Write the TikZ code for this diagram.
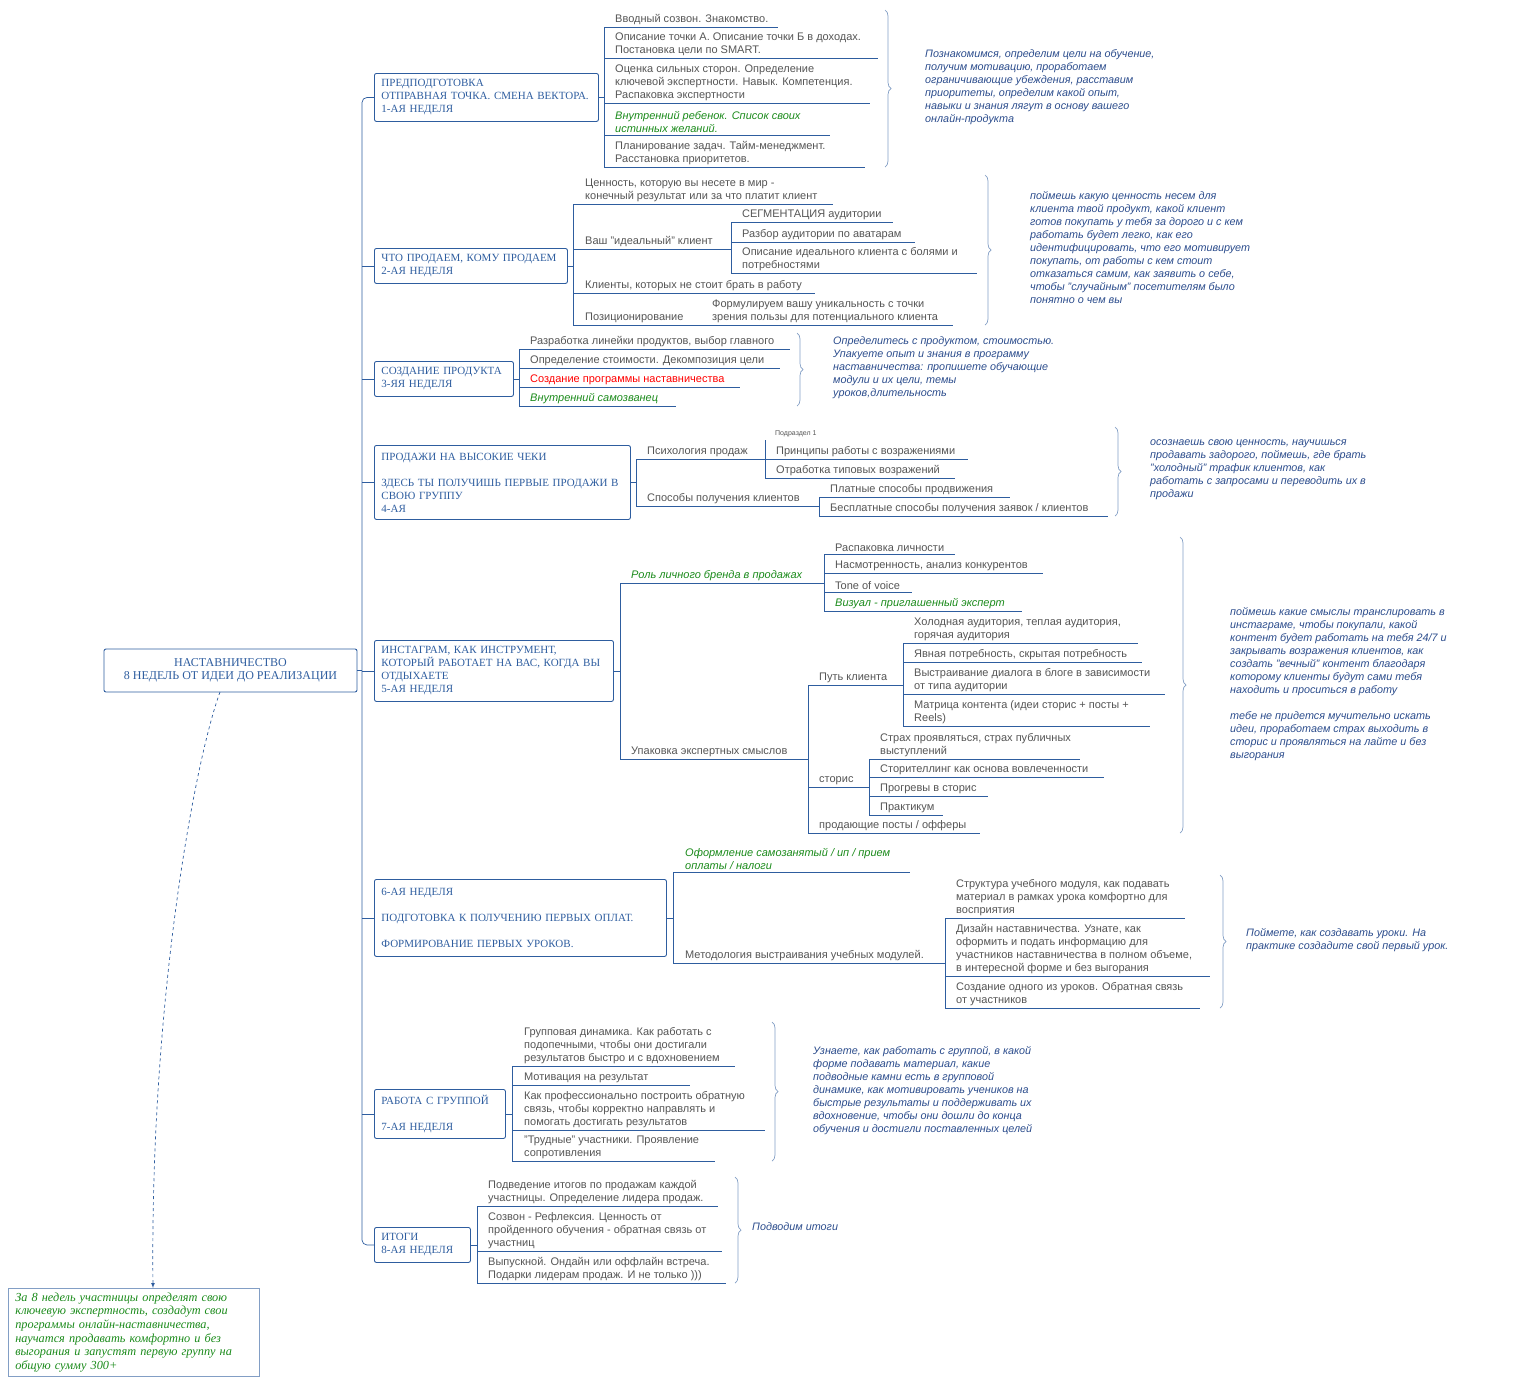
\documentclass[tikz,border=0pt]{standalone}
\usepackage{fontspec}
\setmainfont{Liberation Sans}
\newfontfamily\srf{Liberation Serif}
\usetikzlibrary{decorations.pathreplacing,calc}
\definecolor{ln}{HTML}{2E5D9F}
\definecolor{tg}{HTML}{555555}
\definecolor{nt}{HTML}{2B4C8C}
\definecolor{gr}{HTML}{1A8A1A}
\newcounter{lfc}
\tikzset{
 lnk/.style={draw=ln,line width=0.7pt},
 lf/.style={inner sep=0pt,align=left,text=tg,font=\fontsize{11}{13}\selectfont},
 box/.style={draw=ln,line width=0.9pt,rounded corners=2pt,text=ln,align=left,anchor=north west,inner xsep=7pt,inner ysep=5pt,font=\srf\fontsize{11}{13}\selectfont},
 note/.style={inner sep=0pt,align=left,text=nt,anchor=north west,font=\itshape\fontsize{10.8}{13}\selectfont},
 br/.style={draw=ln!60,line width=0.7pt,decorate,decoration={brace,amplitude=6pt}},
 gi/.style={text=gr,font=\itshape\fontsize{11}{13}\selectfont},
}
\newcommand\lf[6][]{\stepcounter{lfc}\node[lf,#1,anchor=south west] (l\arabic{lfc}) at (#2,#3-2) {#6};
 \draw[lnk] (#5,#3) -- (#4,#3);}
\newcommand\vl[3]{\draw[lnk] (#1,#2) -- (#1,#3);}
\begin{document}
\begin{tikzpicture}[x=1pt,y=-1pt]
\useasboundingbox (0,0) rectangle (1517,1385);
\node[box,anchor=center,align=center,minimum width=253,minimum height=43,font=\srf\fontsize{12}{13.5}\selectfont] (root) at (230.5,670.5) {НАСТАВНИЧЕСТВО\\8 НЕДЕЛЬ ОТ ИДЕИ ДО РЕАЛИЗАЦИИ};
\node[box,text width=210,minimum height=48] (b1) at (374,73) {ПРЕДПОДГОТОВКА\\ОТПРАВНАЯ ТОЧКА. СМЕНА ВЕКТОРА.\\1-АЯ НЕДЕЛЯ};
\node[box,text width=179,minimum height=35] (b2) at (374,248) {ЧТО ПРОДАЕМ, КОМУ ПРОДАЕМ\\2-АЯ НЕДЕЛЯ};
\node[box,text width=125,minimum height=35] (b3) at (374,361) {СОЗДАНИЕ ПРОДУКТА\\3-ЯЯ НЕДЕЛЯ};
\node[box,text width=242,minimum height=74] (b4) at (374,445) {ПРОДАЖИ НА ВЫСОКИЕ ЧЕКИ\\[13pt]ЗДЕСЬ ТЫ ПОЛУЧИШЬ ПЕРВЫЕ ПРОДАЖИ В\\СВОЮ ГРУППУ\\4-АЯ};
\node[box,text width=225,minimum height=61] (b5) at (374,640) {ИНСТАГРАМ, КАК ИНСТРУМЕНТ,\\КОТОРЫЙ РАБОТАЕТ НА ВАС, КОГДА ВЫ\\ОТДЫХАЕТЕ\\5-АЯ НЕДЕЛЯ};
\node[box,text width=278,minimum height=77] (b6) at (374,879) {6-АЯ НЕДЕЛЯ\\[13pt]ПОДГОТОВКА К ПОЛУЧЕНИЮ ПЕРВЫХ ОПЛАТ.\\[13pt]ФОРМИРОВАНИЕ ПЕРВЫХ УРОКОВ.};
\node[box,text width=117,minimum height=49] (b7) at (374,1089) {РАБОТА С ГРУППОЙ\\[13pt]7-АЯ НЕДЕЛЯ};
\node[box,text width=82,minimum height=35] (b8) at (374,1227) {ИТОГИ\\8-АЯ НЕДЕЛЯ};
\draw[lnk,rounded corners=5pt] (b1.west) -| (362,1245) -- (b8.west);
\foreach \b in {b2,b3,b4,b5,b6,b7} \draw[lnk] (362,0|-\b.west) -- (\b.west);
\draw[lnk] (root.east) -- (362,0|-root.east);
% group 1
\vl{604}{27}{167} \draw[lnk] (b1.east) -- (604,0|-b1.east);
\lf{615}{27}{778}{604}{Вводный созвон. Знакомство.}
\lf{615}{58}{878}{604}{Описание точки А. Описание точки Б в доходах.\\Постановка цели по SMART.}
\lf{615}{103}{870}{604}{Оценка сильных сторон. Определение\\ключевой экспертности. Навык. Компетенция.\\Распаковка экспертности}
\lf[gi]{615}{135}{830}{604}{Внутренний ребенок. Список своих\\истинных желаний.}
\lf{615}{167}{865}{604}{Планирование задач. Тайм-менеджмент.\\Расстановка приоритетов.}
\draw[br] (885,10) -- (885,167);
\node[note] (n1) at (925,49) {Познакомимся, определим цели на обучение,\\получим мотивацию, проработаем\\ограничивающие убеждения, расставим\\приоритеты, определим какой опыт,\\навыки и знания лягут в основу вашего\\онлайн-продукта};
% group 2
\vl{573}{204}{325} \draw[lnk] (b2.east) -- (573,0|-b2.east);
\lf{585}{204}{833}{573}{Ценность, которую вы несете в мир -\\конечный результат или за что платит клиент}
\lf{585}{249}{731}{573}{Ваш "идеальный" клиент}
\vl{731}{222}{273}
\lf{742}{222}{893}{731}{СЕГМЕНТАЦИЯ аудитории}
\lf{742}{242}{915}{731}{Разбор аудитории по аватарам}
\lf{742}{273}{977}{731}{Описание идеального клиента с болями и\\потребностями}
\lf{585}{293}{815}{573}{Клиенты, которых не стоит брать в работу}
\lf{585}{325}{700}{573}{Позиционирование}
\lf{712}{325}{953}{700}{Формулируем вашу уникальность с точки\\зрения пользы для потенциального клиента}
\draw[br] (985,175) -- (985,325);
\node[note] (n2) at (1030,191) {поймешь какую ценность несем для\\клиента твой продукт, какой клиент\\готов покупать у тебя за дорого и с кем\\работать будет легко, как его\\идентифицировать, что его мотивирует\\покупать, от работы с кем стоит\\отказаться самим, как заявить о себе,\\чтобы "случайным" посетителям было\\понятно о чем вы};
% group 3
\vl{519}{349}{406} \draw[lnk] (b3.east) -- (519,0|-b3.east);
\lf{530}{349}{790}{519}{Разработка линейки продуктов, выбор главного}
\lf{530}{368}{780}{519}{Определение стоимости. Декомпозиция цели}
\lf[text=red]{530}{387}{740}{519}{Создание программы наставничества}
\lf[gi]{530}{406}{676}{519}{Внутренний самозванец}
\draw[br] (797,333) -- (797,406);
\node[note] (n3) at (833,336) {Определитесь с продуктом, стоимостью.\\Упакуете опыт и знания в программу\\наставничества: пропишете обучающие\\модули и их цели, темы\\уроков,длительность};
% group 4
\vl{636}{459}{506} \draw[lnk] (b4.east) -- (636,0|-b4.east);
\lf{647}{459}{765}{636}{Психология продаж}
\vl{765}{440}{478}
\node[lf,font=\fontsize{7}{8}\selectfont,anchor=south west] (sub) at (775,437) {Подраздел 1};
\lf{776}{459}{968}{765}{Принципы работы с возражениями}
\lf{776}{478}{955}{765}{Отработка типовых возражений}
\lf{647}{506}{819}{636}{Способы получения клиентов}
\vl{819}{497}{516}
\lf{830}{497}{1010}{819}{Платные способы продвижения}
\lf{830}{516}{1108}{819}{Бесплатные способы получения заявок / клиентов}
\draw[br] (1115,427) -- (1115,516);
\node[note] (n4) at (1150,439) {осознаешь свою ценность, научишься\\продавать задорого, поймешь, где брать\\"холодный" трафик клиентов, как\\работать с запросами и переводить их в\\продажи};
% group 5
\vl{620}{583}{759} \draw[lnk] (b5.east) -- (620,0|-b5.east);
\lf[gi]{631}{583}{824}{620}{Роль личного бренда в продажах}
\vl{824}{554}{611}
\lf{835}{554}{955}{824}{Распаковка личности}
\lf{835}{573}{1043}{824}{Насмотренность, анализ конкурентов}
\lf{835}{592}{912}{824}{Tone of voice}
\lf[gi]{835}{611}{1022}{824}{Визуал - приглашенный эксперт}
\lf{631}{759}{808}{620}{Упаковка экспертных смыслов}
\vl{808}{685}{833}
\lf{819}{685}{903}{808}{Путь клиента}
\vl{903}{643}{726}
\lf{914}{643}{1138}{903}{Холодная аудитория, теплая аудитория,\\горячая аудитория}
\lf{914}{662}{1142}{903}{Явная потребность, скрытая потребность}
\lf{914}{694}{1165}{903}{Выстраивание диалога в блоге в зависимости\\от типа аудитории}
\lf{914}{726}{1150}{903}{Матрица контента (идеи сторис + посты +\\Reels)}
\lf{819}{787}{869}{808}{сторис}
\vl{869}{759}{815}
\lf{880}{759}{1080}{869}{Страх проявляться, страх публичных\\выступлений}
\lf{880}{777}{1104}{869}{Сторителлинг как основа вовлеченности}
\lf{880}{796}{988}{869}{Прогревы в сторис}
\lf{880}{815}{943}{869}{Практикум}
\lf{819}{833}{980}{808}{продающие посты / офферы}
\draw[br] (1180,537) -- (1180,833);
\node[note] (n5) at (1230,607) {поймешь какие смыслы транслировать в\\инстаграме, чтобы покупали, какой\\контент будет работать на тебя 24/7 и\\закрывать возражения клиентов, как\\создать "вечный" контент благодаря\\которому клиенты будут сами тебя\\находить и проситься в работу\\[13pt]тебе не придется мучительно искать\\идеи, проработаем страх выходить в\\сторис и проявляться на лайте и без\\выгорания};
% group 6
\vl{673}{872}{963} \draw[lnk] (b6.east) -- (673,0|-b6.east);
\lf[gi]{685}{872}{910}{673}{Оформление самозанятый / ип / прием\\оплаты / налоги}
\lf{685}{963}{945}{673}{Методология выстраивания учебных модулей.}
\vl{945}{918}{1008}
\lf{956}{918}{1185}{945}{Структура учебного модуля, как подавать\\материал в рамках урока комфортно для\\восприятия}
\lf{956}{976}{1210}{945}{Дизайн наставничества. Узнате, как\\оформить и подать информацию для\\участников наставничества в полном объеме,\\в интересной форме и без выгорания}
\lf{956}{1008}{1200}{945}{Создание одного из уроков. Обратная связь\\от участников}
\draw[br] (1220,875) -- (1220,1008);
\node[note] (n6) at (1246,928) {Поймете, как создавать уроки. На\\практике создадите свой первый урок.};
% group 7
\vl{512}{1066}{1161} \draw[lnk] (b7.east) -- (512,0|-b7.east);
\lf{524}{1066}{735}{512}{Групповая динамика. Как работать с\\подопечными, чтобы они достигали\\результатов быстро и с вдохновением}
\lf{524}{1085}{690}{512}{Мотивация на результат}
\lf{524}{1130}{765}{512}{Как профессионально построить обратную\\связь, чтобы корректно направлять и\\помогать достигать результатов}
\lf{524}{1161}{715}{512}{"Трудные" участники. Проявление\\сопротивления}
\draw[br] (772,1022) -- (772,1161);
\node[note] (n7) at (813,1046) {Узнаете, как работать с группой, в какой\\форме подавать материал, какие\\подводные камни есть в групповой\\динамике, как мотивировать учеников на\\быстрые результаты и поддерживать их\\вдохновение, чтобы они дошли до конца\\обучения и достигли поставленных целей};
% group 8
\vl{477}{1206}{1283} \draw[lnk] (b8.east) -- (477,0|-b8.east);
\lf{488}{1206}{718}{477}{Подведение итогов по продажам каждой\\участницы. Определение лидера продаж.}
\lf{488}{1251}{722}{477}{Созвон - Рефлексия. Ценность от\\пройденного обучения - обратная связь от\\участниц}
\lf{488}{1283}{726}{477}{Выпускной. Ондайн или оффлайн встреча.\\Подарки лидерам продаж. И не только )))}
\draw[br] (735,1177) -- (735,1283);
\node[note] (n8) at (752,1222) {Подводим итоги};
\node[draw=ln!60,line width=0.6pt,anchor=north west,text width=237,minimum height=88,inner xsep=7pt,inner ysep=4pt,align=left,text=gr,font=\srf\itshape\fontsize{12.3}{13.6}\selectfont] (bn) at (8,1288) {За 8 недель участницы определят свою\\ключевую экспертность, создадут свои\\программы онлайн-наставничества,\\научатся продавать комфортно и без\\выгорания и запустят первую группу на\\общую сумму 300+};
\draw[ln,dashed,line width=0.7pt,-latex] (220,692) .. controls (195,760) and (150,1000) .. (153,1288);
\end{tikzpicture}
\end{document}
